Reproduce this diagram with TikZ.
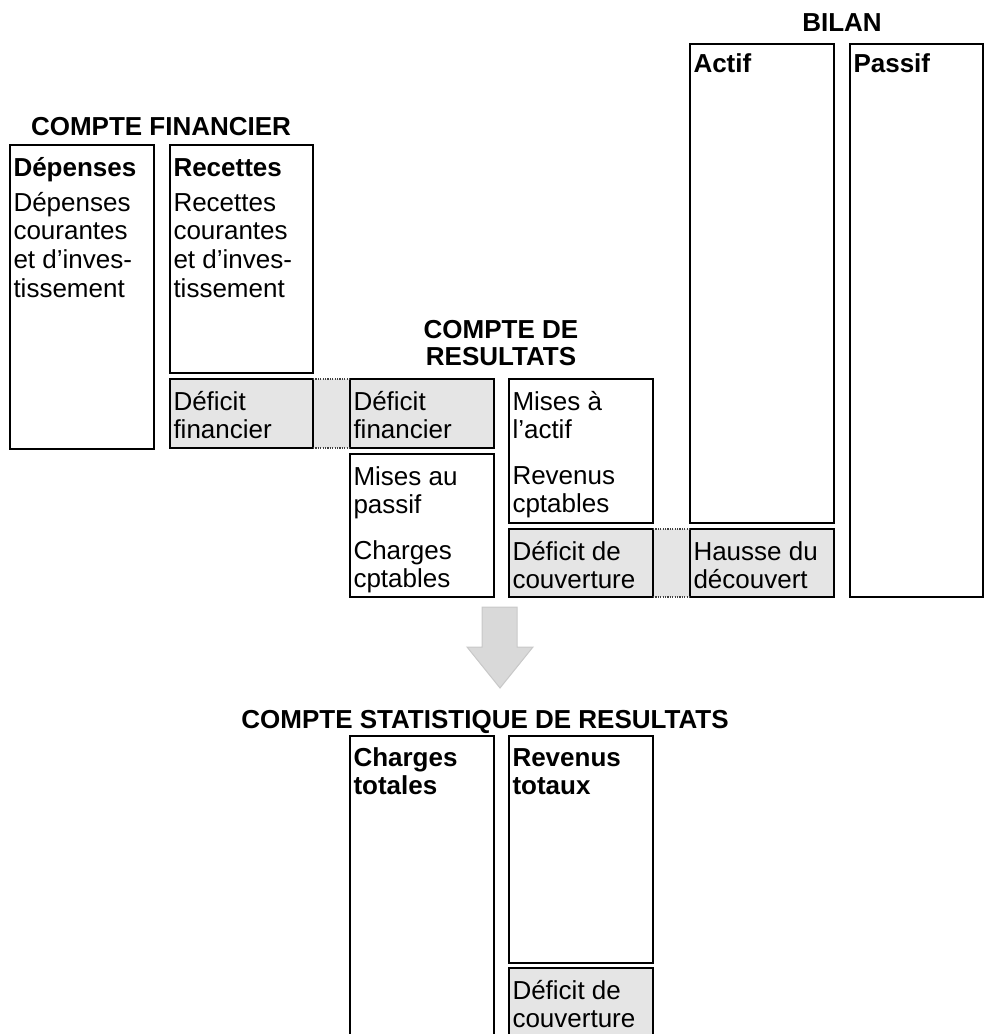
\documentclass[tikz,border=0pt]{standalone}
\usepackage{fontspec}
\setmainfont{Liberation Sans}
\pgfdeclarelayer{background}
\pgfsetlayers{background,main}
\definecolor{deficitgray}{RGB}{229,229,229}
\definecolor{arrowgray}{RGB}{217,217,217}
\definecolor{arrowedge}{RGB}{200,200,200}
% account column: fixed-size box, text hanging from the top
% [first baseline]{width}{height}{text}
\newcommand\acct[4][31]{\parbox[c][#3pt][t]{#2pt}{\raggedright\rule{0pt}{#1pt}#4}}
\begin{document}
\begin{tikzpicture}[x=1pt,y=-1pt,
  acctbox/.style={draw=black, line width=2.4pt, fill=white, anchor=north west,
    inner xsep=3.5pt, inner ysep=0pt, outer sep=0pt,
    font=\fontsize{26}{28}\selectfont},
  deficit/.style={acctbox, fill=deficitgray},
  heading/.style={font=\fontsize{26}{27}\selectfont\bfseries, inner sep=0pt, align=center},
  dotlink/.style={draw=black!75, line width=1.6pt, dash pattern=on 1.2pt off 1.2pt}]
\useasboundingbox (0,0) rectangle (984,1034);
\clip (0,0) rectangle (984,1034);

% headings
\node[heading, anchor=base] (tbilan) at (842,31) {BILAN};
\node[heading, anchor=base] (tcf) at (161,135) {COMPTE FINANCIER};
\node[heading, anchor=north] (tcr) at (501,320.5) {COMPTE DE\\RESULTATS};
\node[heading, anchor=base] (tcsr) at (485,728) {COMPTE STATISTIQUE DE RESULTATS};

% compte financier
\node[acctbox] (dep) at (10,145) {\acct{137}{304}{\textbf{Dépenses}\\[7pt]Dépenses\\[0.7pt]courantes\\[0.7pt]et d’inves-\\[0.7pt]tissement}};
\node[acctbox] (rec) at (170,145) {\acct{136}{228}{\textbf{Recettes}\\[7pt]Recettes\\[0.7pt]courantes\\[0.7pt]et d’inves-\\[0.7pt]tissement}};
\node[deficit] (dfin1) at (170,379) {\acct{136}{69}{Déficit\\financier}};

% compte de resultats
\node[deficit] (dfin2) at (350,379) {\acct{137}{69}{Déficit\\financier}};
\node[acctbox] (mpass) at (350,454) {\acct{137}{143}{Mises au\\passif\\[18pt]Charges\\cptables}};
\node[acctbox] (mact) at (509,379) {\acct{137}{144}{Mises à\\l’actif\\[18pt]Revenus\\cptables}};
\node[deficit] (dcouv) at (509,529) {\acct{137}{68}{Déficit de\\couverture}};

% bilan
\node[acctbox] (actif) at (690,44) {\acct[28]{137}{479}{\textbf{Actif}}};
\node[deficit] (hausse) at (690,529) {\acct{137}{68}{Hausse du\\découvert}};
\node[acctbox] (passif) at (850,44) {\acct[28]{126}{553}{\textbf{Passif}}};

% links between the deficit entries
\begin{pgfonlayer}{background}
  \fill[deficitgray] (dfin1.north east) rectangle (dfin2.south west);
  \fill[deficitgray] (dcouv.north east) rectangle (hausse.south west);
\end{pgfonlayer}
\draw[dotlink] (dfin1.north east) -- (dfin2.north west);
\draw[dotlink] (dfin1.south east) -- (dfin2.south west);
\draw[dotlink] (dcouv.north east) -- (hausse.north west);
\draw[dotlink] (dcouv.south east) -- (hausse.south west);

% transition arrow
\filldraw[fill=arrowgray, draw=arrowedge, line width=1pt]
  (482,607) -- (517,607) -- (517,647) -- (533,647) -- (500,688)
  -- (467,647) -- (482,647) -- cycle;

% compte statistique de resultats
\node[acctbox] (chtot) at (350,736) {\acct[30]{137}{330}{\textbf{Charges}\\\textbf{totales}}};
\node[acctbox] (revtot) at (509,736) {\acct[30]{137}{227}{\textbf{Revenus}\\\textbf{totaux}}};
\node[deficit] (dcouv2) at (509,968) {\acct{137}{100}{Déficit de\\couverture}};
\end{tikzpicture}
\end{document}
